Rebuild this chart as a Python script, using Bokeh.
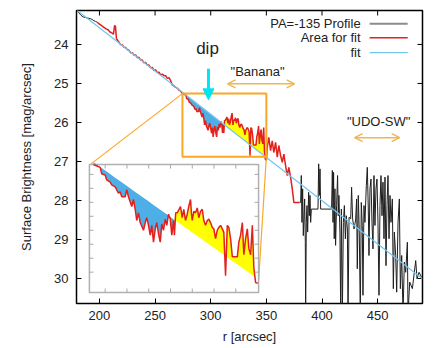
import numpy as np
from bokeh.plotting import figure
from bokeh.models import Range1d, FixedTicker, Arrow, NormalHead, OpenHead
from bokeh.core.properties import value
from bokeh.embed import file_html
from bokeh.resources import INLINE

# ---------------- data ----------------
PROFILE_HEAD_R = [180.0, 181.5, 183.0, 184.5, 186.0, 187.5, 189.0, 190.5, 192.0, 193.5, 195.0, 196.5, 198.0]
PROFILE_HEAD_MU = [23.13, 23.19, 23.24, 23.28, 23.30, 23.31, 23.32, 23.33, 23.34, 23.36, 23.39, 23.41, 23.43]

FIT_AREA_R = [198.0, 200.0, 202.0, 204.0, 206.0, 208.0, 209.5, 211.0, 212.6, 213.6, 214.4, 215.3, 216.5, 217.5,
              219.0, 220.5, 222.0, 223.5, 225.0, 226.5, 228.0, 229.5, 231.0, 232.5, 234.0, 235.5, 237.0, 238.5,
              240.0, 241.5, 243.0, 244.5, 246.0, 247.5, 249.0, 250.5, 252.0, 253.5, 255.0, 256.5, 258.0, 259.5,
              261.0, 262.5, 264.0, 265.5, 267.0, 268.5, 270.0, 271.5, 273.0,
              274.6, 275.4, 277.7, 278.4, 280.0, 280.7, 282.3, 283.0, 284.6, 286.1, 286.9, 287.6, 289.2, 289.9,
              290.7, 292.2, 293.0, 293.8, 294.5, 295.3, 296.1, 297.6, 298.4, 299.1, 299.9, 300.7, 301.4, 302.2,
              303.0, 303.7, 304.5, 305.3, 306.0, 306.8, 307.6, 308.3, 309.1, 309.9, 310.6, 311.4, 311.8, 312.4,
              313.1, 314.6, 315.4, 316.1, 316.9, 317.7, 318.4, 319.2, 319.6, 320.0, 320.7, 321.5, 322.3, 323.0,
              323.8, 324.6, 325.3, 326.1, 326.9, 327.6, 328.4, 329.2, 329.9, 330.7, 331.5, 332.2, 333.0, 333.8,
              334.5, 335.3, 336.1, 336.8, 337.6, 338.4, 339.1, 340.7, 341.4, 342.2, 343.0, 343.7, 344.5, 345.3,
              346.0, 346.8, 347.6, 348.3, 349.1, 350.1,
              350.8, 352.2, 353.8, 355.3, 356.7, 358.3, 359.8, 361.2, 362.8, 364.3, 365.7, 367.3, 368.8, 370.2,
              371.8, 373.3, 374.7, 380.0]
FIT_AREA_MU = [23.43, 23.48, 23.52, 23.56, 23.60, 23.63, 23.68, 23.70, 23.74, 23.52, 23.53, 23.85, 23.90, 23.94,
               24.00, 24.01, 24.07, 24.08, 24.13, 24.15, 24.21, 24.21, 24.27, 24.27, 24.34, 24.33, 24.40, 24.40,
               24.47, 24.46, 24.53, 24.53, 24.60, 24.59, 24.67, 24.65, 24.72, 24.71, 24.78, 24.76, 24.80, 24.80,
               24.87, 24.85, 24.93, 25.04, 25.06, 25.10, 25.12, 25.17, 25.20,
               25.26, 25.27, 25.30, 25.39, 25.41, 25.48, 25.51, 25.55, 25.58, 25.67, 25.65, 25.72, 25.72, 25.62,
               25.72, 25.86, 25.76, 25.90, 26.06, 25.95, 26.09, 26.20, 26.09, 26.02, 26.13, 26.27, 26.13, 26.37,
               26.18, 26.09, 26.25, 26.37, 26.11, 26.20, 26.04, 26.13, 25.97, 26.04, 26.27, 26.06, 26.27, 25.95,
               25.95, 25.86, 26.02, 25.90, 26.06, 25.97, 25.86, 25.76, 25.95, 26.06, 25.93, 25.95, 25.88, 26.02,
               25.93, 25.90, 26.06, 26.13, 26.06, 26.04, 26.09, 26.16, 26.18, 26.32, 26.20, 26.16, 26.13, 26.18,
               26.23, 26.85, 26.13, 26.16, 26.32, 26.58, 26.58, 26.58, 26.37, 26.27, 26.09, 26.55, 26.32, 26.18,
               26.46, 26.55, 26.13, 26.74, 26.95, 26.96,
               26.64, 26.38, 26.72, 26.47, 26.77, 26.51, 26.89, 26.59, 26.85, 27.02, 26.81, 27.11, 27.36, 27.15,
               27.41, 27.70, 28.05, 28.05]

PROFILE_TAIL_R = [380.0, 380.8, 381.4, 382.0, 382.6, 383.2, 383.8, 384.4, 385.0, 385.3, 385.9, 386.5, 387.1, 388.0,
                  388.6, 389.2, 389.8, 390.4, 396.4, 397.0, 397.6, 398.2, 398.8, 408.6, 409.3, 409.9, 410.4, 411.0,
                  411.6, 412.2, 413.1, 414.0, 414.6, 415.2, 416.1, 416.8, 417.4, 418.3, 419.2, 420.1, 421.0, 421.8,
                  422.8, 423.4, 424.3, 425.8, 426.6, 427.5, 428.8, 430.2, 431.1, 431.7, 432.6, 433.5, 434.4, 435.3,
                  436.2, 436.8, 437.7, 438.6, 439.8, 440.7, 441.6, 442.2, 443.1, 444.0, 444.9, 445.8, 446.7, 447.6,
                  448.5, 449.4, 450.3, 451.2, 452.1, 453.0, 453.9, 454.8, 455.7, 456.6, 457.5, 458.4, 459.3, 460.2,
                  461.1, 462.0, 463.2, 464.1, 465.0, 466.2, 467.1, 468.3, 469.5, 470.4, 471.6, 472.8, 474.0, 475.2,
                  476.7, 477.3, 478.8, 481.2, 484.2, 485.4, 487.2, 490.2]
PROFILE_TAIL_MU = [28.05, 28.05, 27.36, 28.56, 27.70, 28.90, 28.47, 27.96, 29.07, 30.90, 28.56, 28.13, 28.81, 27.79,
                   28.39, 27.87, 28.56, 28.22, 28.22, 27.06, 27.87, 27.19, 28.22, 28.22, 27.23, 28.56, 27.28, 28.98,
                   27.70, 29.15, 28.13, 27.36, 28.39, 27.87, 28.81, 30.90, 28.22, 30.90, 28.56, 28.13, 28.98, 28.39,
                   28.73, 30.90, 28.43, 28.47, 27.66, 28.47, 28.73, 28.50, 27.96, 29.75, 27.87, 28.81, 30.90, 28.05,
                   28.64, 30.43, 28.13, 28.56, 27.62, 27.15, 28.22, 29.41, 27.70, 27.45, 28.56, 29.24, 27.36, 28.64,
                   27.70, 27.45, 28.56, 30.43, 28.13, 27.36, 28.39, 27.53, 28.98, 27.40, 29.67, 28.13, 27.36, 28.98,
                   27.87, 28.56, 27.96, 30.26, 28.81, 29.41, 30.35, 28.56, 27.96, 30.26, 29.41, 30.90, 29.58, 29.84,
                   29.07, 30.90, 30.09, 30.26, 29.54, 30.01, 29.84, 30.01]

FIT_A, FIT_B = 19.14, 0.02216          # mu = A + B * r
FIT_R = [180.0, 490.0]
DIP_SPLIT_R = 312.0                    # blue fill before, yellow fill after
ZOOM_R = (274.6, 350.0)                # zoomed box (data)
ZOOM_MU = (25.26, 26.88)

X_TICKS = [200, 250, 300, 350, 400, 450]
Y_TICKS = [24, 25, 26, 27, 28, 29, 30]
INSET_X_TICKS = [280, 290, 300, 310, 320, 330, 340]
INSET_Y_TICKS = [25.4, 25.6, 25.8, 26.0, 26.2, 26.4, 26.6, 26.8]
LEGEND_LABELS = ["PA=-135 Profile", "Area for fit", "fit"]

# ---------------- layout constants ----------------
MAIN_X = (179.4, 490.3)
MAIN_Y = (30.64, 23.13)          # bottom, top (reversed magnitude axis)
FRAME_W, FRAME_H = 346, 293
INSET_BOX_R = (191.0, 343.0)     # inset frame in main coordinates
INSET_BOX_MU = (27.08, 30.36)
INSET_AREA_R = (194.6, 342.1)    # where ZOOM_R is drawn inside the inset
INSET_AREA_MU = (27.08, 29.98)

FONT = "Liberation Sans"
TXT = "#222222"
RED = "#e3201b"
BLACK = "#1e1e1e"
FITC = "#72c6ef"
BLUEF = "#4eaee6"
YEL = "#ffff00"
ORANGE = "#f9a825"
ARROW_OR = "#f0b653"
CYAN = "#00e5f0"

p = figure(width=436, height=348, x_range=Range1d(*MAIN_X), y_range=Range1d(*MAIN_Y),
           output_backend="svg", toolbar_location=None,
           min_border_left=76, min_border_right=14, min_border_top=10, min_border_bottom=45)
p.background_fill_color = "white"
p.border_fill_color = "white"
p.outline_line_color = "black"
p.outline_line_width = 1.5
p.xgrid.grid_line_color = None
p.ygrid.grid_line_color = None

def style_axis(ax, ticks):
    ax.ticker = FixedTicker(ticks=ticks)
    ax.major_tick_in = 5
    ax.major_tick_out = 0
    ax.minor_tick_in = 0
    ax.minor_tick_out = 0
    ax.axis_line_color = None
    ax.major_tick_line_color = "black"
    ax.major_tick_line_width = 1
    ax.major_label_text_font = FONT
    ax.major_label_text_color = TXT
    ax.major_label_text_font_size = "13px"
    ax.axis_label_text_font = FONT
    ax.axis_label_text_font_size = "13px"
    ax.axis_label_text_font_style = "normal"
    ax.axis_label_text_color = TXT

style_axis(p.xaxis[0], X_TICKS)
style_axis(p.yaxis[0], Y_TICKS)
p.xaxis[0].major_label_standoff = 7
p.yaxis[0].major_label_standoff = 8
p.xaxis[0].axis_label = "r [arcsec]"
p.yaxis[0].axis_label = "Surface Brightness [mag/arcsec]"
p.xaxis[0].axis_label_standoff = 6
p.yaxis[0].axis_label_standoff = 17

# top / right inward ticks (gnuplot mirror ticks)
tx = (MAIN_X[1] - MAIN_X[0]) / FRAME_W * 5
ty = (MAIN_Y[0] - MAIN_Y[1]) / FRAME_H * 5
p.segment(x0=X_TICKS, x1=X_TICKS, y0=[MAIN_Y[1]] * len(X_TICKS), y1=[MAIN_Y[1] + ty] * len(X_TICKS),
          line_color="black", line_width=1)
p.segment(x0=[MAIN_X[1]] * len(Y_TICKS), x1=[MAIN_X[1] - tx] * len(Y_TICKS), y0=Y_TICKS, y1=Y_TICKS,
          line_color="black", line_width=1)

# ---------------- arrays ----------------
area_r = np.array(FIT_AREA_R)
area_mu = np.array(FIT_AREA_MU)
fit_at = FIT_A + FIT_B * area_r
in_zoom = (area_r >= ZOOM_R[0]) & (area_r <= ZOOM_R[1] + 0.5)
blue_m = in_zoom & (area_r <= DIP_SPLIT_R)
yel_m = in_zoom & (area_r >= DIP_SPLIT_R - 0.5)
fit_mu = [FIT_A + FIT_B * r for r in FIT_R]

# ---------------- main panel ----------------
p.varea(x=area_r[blue_m], y1=fit_at[blue_m], y2=np.maximum(area_mu, fit_at)[blue_m], fill_color=BLUEF)
p.varea(x=area_r[yel_m], y1=fit_at[yel_m], y2=np.minimum(area_mu, fit_at)[yel_m], fill_color=YEL)
p.line(PROFILE_HEAD_R, PROFILE_HEAD_MU, line_color=BLACK, line_width=1)
p.line(PROFILE_TAIL_R, PROFILE_TAIL_MU, line_color=BLACK, line_width=1)
p.line(area_r, area_mu, line_color=RED, line_width=1.5)
p.line(FIT_R, fit_mu, line_color=FITC, line_width=1.2)

# zoom box
p.quad(left=[ZOOM_R[0]], right=[ZOOM_R[1]], top=[ZOOM_MU[0]], bottom=[ZOOM_MU[1]],
       fill_color=None, line_color=ORANGE, line_width=2)

# ---------------- inset ----------------
SR = (ZOOM_R[1] - ZOOM_R[0]) / (INSET_AREA_R[1] - INSET_AREA_R[0])
SM = (ZOOM_MU[1] - ZOOM_MU[0]) / (INSET_AREA_MU[1] - INSET_AREA_MU[0])
def ir(m):
    return ZOOM_R[0] + (m - INSET_AREA_R[0]) * SR
def imu(m):
    return ZOOM_MU[0] + (m - INSET_AREA_MU[0]) * SM
p.extra_x_ranges = {"inset": Range1d(ir(MAIN_X[0]), ir(MAIN_X[1]))}
p.extra_y_ranges = {"inset": Range1d(imu(MAIN_Y[0]), imu(MAIN_Y[1]))}

# connectors from zoom box to inset
p.segment(x0=[ZOOM_R[0], ZOOM_R[1]], y0=[ZOOM_MU[0], ZOOM_MU[1]],
          x1=[INSET_AREA_R[0] - 3.0, INSET_AREA_R[1] + 1.0], y1=[INSET_AREA_MU[0], INSET_AREA_MU[1] + 0.05],
          line_color=ORANGE, line_width=1.2)

p.quad(left=[INSET_BOX_R[0]], right=[INSET_BOX_R[1]], top=[INSET_BOX_MU[0]], bottom=[INSET_BOX_MU[1]],
       fill_color="white", line_color="#b0b0b0", line_width=1.5)

kw = dict(x_range_name="inset", y_range_name="inset")
p.varea(x=area_r[blue_m], y1=fit_at[blue_m], y2=np.maximum(area_mu, fit_at)[blue_m], fill_color=BLUEF, **kw)
p.varea(x=area_r[yel_m], y1=fit_at[yel_m], y2=np.minimum(area_mu, fit_at)[yel_m], fill_color=YEL, **kw)
p.line(area_r[in_zoom], area_mu[in_zoom], line_color=RED, line_width=1.5, **kw)

# inset ticks (inward)
bl, br = ir(INSET_BOX_R[0]), ir(INSET_BOX_R[1])
bt, bb = imu(INSET_BOX_MU[0]), imu(INSET_BOX_MU[1])
px_r = (ir(MAIN_X[1]) - ir(MAIN_X[0])) / FRAME_W
px_mu = (imu(MAIN_Y[0]) - imu(MAIN_Y[1])) / FRAME_H
tl = 4
xs0, ys0, xs1, ys1 = [], [], [], []
for t in INSET_X_TICKS:
    xs0 += [t, t]; xs1 += [t, t]
    ys0 += [bt, bb]; ys1 += [bt + tl * px_mu, bb - tl * px_mu]
for t in INSET_Y_TICKS:
    ys0 += [t, t]; ys1 += [t, t]
    xs0 += [bl, br]; xs1 += [bl + tl * px_r, br - tl * px_r]
p.segment(x0=xs0, y0=ys0, x1=xs1, y1=ys1, line_color="#a8a8a8", line_width=1, **kw)

# ---------------- annotations ----------------
p.text(x=[297.1], y=[24.11], text=["dip"], text_font=value(FONT), text_font_size="17px",
       text_align="center", text_baseline="middle", text_color=TXT)
p.add_layout(Arrow(end=NormalHead(size=11, fill_color=CYAN, line_color=CYAN),
                   x_start=298.0, y_start=24.62, x_end=298.0, y_end=25.42,
                   line_color=CYAN, line_width=3))

p.text(x=[342.1, 450.9], y=[24.70, 25.98], text=['"Banana"', '"UDO-SW"'], text_font=value(FONT),
       text_font_size="13px", text_align="center", text_baseline="middle", text_color=TXT)
for (r0, r1), mu in (((315.1, 375.4), 25.01), ((429.3, 469.8), 26.39)):
    p.add_layout(Arrow(start=OpenHead(size=8, line_color=ARROW_OR, line_width=1.5),
                       end=OpenHead(size=8, line_color=ARROW_OR, line_width=1.5),
                       x_start=r0, y_start=mu, x_end=r1, y_end=mu,
                       line_color=ARROW_OR, line_width=1.5))

# ---------------- legend (gnuplot style: text, then sample) ----------------
LEG_MU = [23.47, 23.83, 24.21]
p.text(x=[434.7] * 3, y=LEG_MU, text=LEGEND_LABELS, text_font=value(FONT), text_font_size="13px",
       text_align="right", text_baseline="middle", text_color=TXT)
p.segment(x0=[442.8] * 3, x1=[477.0] * 3, y0=LEG_MU, y1=LEG_MU,
          line_color=["#8c8c8c", RED, FITC], line_width=[2, 1.5, 1.2])

open("out.html", "w").write(file_html(p, INLINE))
